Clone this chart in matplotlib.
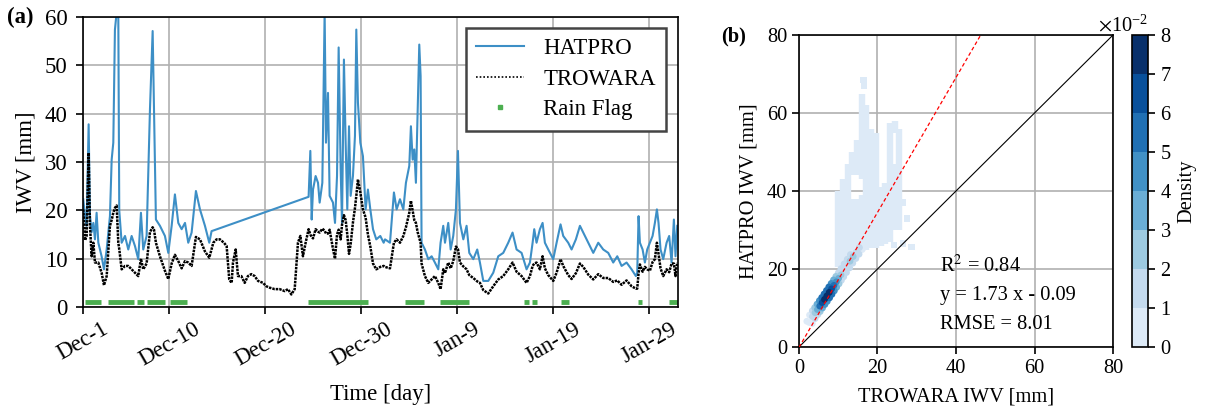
import numpy as np
import matplotlib
matplotlib.use("Agg")
import matplotlib.pyplot as plt
from matplotlib.colors import BoundaryNorm, ListedColormap
from matplotlib.lines import Line2D
from matplotlib.ticker import ScalarFormatter

plt.rcParams['font.family'] = ['Liberation Serif', 'DejaVu Serif']
plt.rcParams['mathtext.fontset'] = 'stix'
plt.rcParams['font.size'] = 14.7
FS_A = 16.4  # panel (a) was drawn with a larger font

nan = np.nan

# ---------------- panel (a) data: days since Dec-1
days = [0.03, 0.21, 0.38, 0.59, 0.73, 0.90, 1.08, 1.25, 1.42, 1.60, 1.94, 2.19, 2.47, 2.81, 2.99, 3.16,
        3.33, 3.51, 3.68, 3.78, 4.03, 4.38, 4.72, 5.07, 5.42, 5.76, 6.04, 6.28, 6.63, 6.98, 7.26, 7.40,
        7.60, 8.02, 8.54, 8.89, 9.24, 9.58, 9.93, 10.28, 10.63, 10.97, 11.32, 11.77, 12.19, 12.71, 13.16, 13.40,
        13.58, 13.92, 14.27, 14.69, 14.97, 15.24, 15.49, 15.63, 15.91, 16.15, 16.50, 16.85, 17.19, 17.54,
        17.89, 18.24, 18.76, 19.10, 19.45, 19.97, 20.49, 21.01, 21.36, 21.71, 22.06, 22.40, 22.65, 22.92, 23.20,
        23.51, 23.69, 23.83, 23.97, 24.24, 24.49, 24.66, 24.94, 25.18, 25.32, 25.53, 25.70, 26.05, 26.26,
        26.47, 26.64, 26.85, 26.99, 27.19, 27.37, 27.54, 27.72, 27.89, 28.13, 28.34, 28.48, 28.65, 28.90,
        29.17, 29.45, 29.69, 29.94, 30.22, 30.56, 30.98, 31.33,
        31.47, 31.99, 32.40, 32.68, 33.03, 33.38, 33.65, 34.00, 34.17, 34.35, 34.52, 34.69, 34.87, 35.04,
        35.18, 35.28, 35.63, 35.98, 36.33, 36.67, 37.02, 37.26, 37.54, 37.72, 38.06, 38.31, 38.58, 38.86,
        39.07, 39.28, 39.63, 39.97, 40.25, 40.67, 41.08, 41.36, 41.71, 42.23, 42.75, 43.27, 43.79, 44.31,
        44.76, 45.18, 45.70, 46.22, 46.57, 46.85, 47.02,
        47.26, 47.61, 47.89, 48.13, 48.48, 49.00, 49.35, 49.76, 50.04, 50.56, 50.91, 51.36, 51.78, 52.13,
        52.65, 53.17, 53.69, 54.21, 54.73, 55.25, 55.67, 56.12, 56.64, 57.16, 57.61, 57.75, 57.89, 58.03,
        58.31, 58.55, 58.79, 59.07, 59.35, 59.59, 59.80, 59.97, 60.18, 60.46, 60.81, 61.08, 61.33, 61.57,
        61.74, 61.92]

# HATPRO IWV [mm] (no data between Dec-14 and Dec-24)
hatpro = [22.3, 18.8, 16.8, 37.8, 18.8, 15.5, 17.4, 14.0, 19.5, 13.3, 10.5, 7.8, 11.9, 18.8, 30.5, 34.0,
          57.4, 61, 61, 20.0, 13.3, 14.7, 11.9, 14.7, 12.6, 9.9, 19.5, 11.9, 14.7, 40.9, 57.1, 40.9,
          18.1, 16.8, 14.7, 11.2, 16.8, 23.3, 17.4, 16.1, 17.4, 13.3, 15.4, 24.0, 20.2, 16.8, 13.3, 15.7,
          nan, nan, nan, nan, nan, nan, nan, nan, nan, nan, nan, nan, nan, nan,
          nan, nan, nan, nan, nan, nan, nan, nan, nan, nan, nan, nan, nan, nan, nan,
          22.8, 32.3, 18.1, 24.3, 27.1, 25.7, 21.6, 25.7, 61, 34.0, 44.3, 23.0, 21.6, 17.4,
          27.1, 53.7, 28.5, 17.4, 51.2, 34.0, 20.2, 37.4, 23.0, 27.1, 35.4, 57.4, 42.3, 34.0,
          31.2, 20.2, 24.3, 20.2, 16.1, 14.0, 14.7, 13.3,
          14.0, 13.3, 23.7, 20.2, 22.3, 20.2, 25.7, 29.2, 37.4, 30.5, 32.6, 25.7, 40.9, 54.3,
          47.8, 13.3, 11.9, 9.9, 10.5, 9.2, 7.8, 13.3, 16.8, 13.3, 17.4, 11.9, 14.7, 20.2,
          32.3, 17.4, 14.0, 16.8, 11.2, 9.9, 11.9, 9.2, 5.4, 5.4, 7.1, 10.5, 11.2, 13.3,
          15.4, 11.9, 11.2, 7.8, 9.2, 13.3, 16.1,
          13.3, 16.1, 17.4, 13.3, 11.9, 9.9, 13.3, 17.1, 14.7, 13.3, 11.9, 14.0, 16.8, 15.4,
          13.3, 11.2, 13.3, 11.9, 11.2, 9.2, 10.5, 8.5, 9.2, 7.8, 6.4, 7.1, 18.8, 13.3,
          11.9, 9.2, 11.9, 13.3, 14.7, 17.4, 20.2, 17.4, 11.9, 9.9, 13.3, 14.7, 9.2, 18.1,
          10.5, 16.8]

# TROWARA IWV [mm]
trowara = [20.2, 13.8, 14.7, 31.9, 16.8, 10.5, 13.3, 9.2, 9.2, 9.2, 7.1, 4.5, 6.4, 16.8, 18.0, 19.5,
           20.5, 21.0, 13.3, 12.0, 7.8, 8.5, 8.5, 7.8, 7.1, 6.4, 10.0, 7.8, 9.0, 15.5, 16.5, 16.0,
           13.3, 10.5, 7.5, 5.8, 9.0, 10.8, 9.5, 8.0, 9.5, 9.2, 8.5, 14.5, 14.0, 11.5, 10.2, 12.0,
           13.3, 14.0, 14.0, 13.3, 12.6, 5.7, 5.0, 9.2, 11.9, 6.4, 6.4, 5.0, 6.4, 6.8,
           6.4, 5.4, 5.0, 4.3, 4.0, 3.7, 3.7, 3.3, 3.7, 2.6, 3.7, 13.3, 14.7, 10.5, 13.3,
           16.1, 15.0, 14.5, 14.2, 16.1, 15.6, 15.4, 16.2, 15.8, 15.2, 15.2, 16.0, 12.0, 10.0,
           15.0, 16.0, 14.0, 17.0, 19.0, 18.0, 15.0, 11.0, 13.0, 17.5, 20.5, 23.0, 26.4, 23.7,
           20.2, 18.5, 15.0, 12.5, 9.0, 7.8, 8.3, 8.5,
           8.3, 8.0, 13.3, 14.0, 13.3, 14.7, 16.5, 19.5, 22.0, 20.0, 18.0, 17.4, 15.5, 14.3,
           13.3, 9.0, 6.4, 5.0, 5.7, 6.4, 5.0, 3.7, 7.8, 7.0, 9.2, 8.0, 9.5, 12.5,
           12.0, 9.2, 8.4, 7.8, 6.6, 6.0, 5.3, 5.0, 3.5, 2.8, 4.3, 5.7, 6.4, 7.8,
           9.2, 7.3, 6.4, 5.0, 6.4, 8.5, 9.0,
           9.2, 7.8, 10.5, 8.0, 6.6, 5.4, 7.1, 9.9, 8.5, 6.6, 5.8, 7.0, 9.0, 8.3,
           6.7, 5.7, 6.8, 6.0, 6.0, 5.2, 5.5, 4.6, 5.5, 4.3, 3.8, 3.8, 7.0, 8.8,
           7.3, 8.3, 7.8, 7.5, 9.3, 9.9, 13.3, 11.0, 8.0, 6.4, 7.8, 7.2, 9.0, 9.0,
           6.4, 9.2]

# rain flag periods (days since Dec-1)
rain_start = [0.18, 2.64, 5.67, 6.72, 9.05, 23.42, 33.56, 37.25, 46.0, 46.8, 49.8, 57.8, 61.1]
rain_end = [1.93, 5.36, 6.41, 8.57, 10.85, 29.65, 35.54, 40.2, 46.5, 47.3, 50.65, 58.2, 62.0]

date_ticks = [0, 9, 19, 29, 39, 49, 59]
date_labels = ['Dec-1', 'Dec-10', 'Dec-20', 'Dec-30', 'Jan-9', 'Jan-19', 'Jan-29']

# ---------------- panel (b) data
# dense core (TROWARA, HATPRO, density)
core_x = [2.6, 3.4, 4.1, 4.7, 5.3, 5.9, 6.5, 7.1, 7.7, 8.3, 8.9, 9.5, 10.1, 10.7, 11.4, 12.2, 13.0, 13.8, 14.6, 15.4,
          2.0, 2.7, 3.4, 4.0, 4.6, 5.2, 5.8, 6.4, 7.0, 7.6, 8.2, 8.8, 9.4, 10.0, 10.7, 11.5, 12.3, 13.1,
          3.4, 4.1, 4.8, 5.4, 6.0, 6.6, 7.2, 7.8, 8.4, 9.0, 9.6, 10.2, 10.8, 11.4, 12.1, 12.9, 13.7, 14.5, 15.3, 16.1]
core_y = [6.3, 7.8, 8.8, 9.6, 10.5, 11.4, 12.2, 13.1, 14.0, 14.9, 15.8, 16.7, 17.6, 18.5, 19.6, 20.8, 22.0, 23.2, 24.3, 25.5,
          6.6, 8.2, 9.3, 10.1, 11.0, 11.9, 12.7, 13.6, 14.5, 15.4, 16.3, 17.2, 18.1, 19.0, 20.1, 21.3, 22.5, 23.7,
          6.0, 7.3, 8.3, 9.1, 10.0, 10.9, 11.7, 12.6, 13.5, 14.4, 15.3, 16.2, 17.1, 18.0, 19.1, 20.3, 21.5, 22.7, 23.8, 25.0]
core_dens = [0.005, 0.015, 0.025, 0.035, 0.05, 0.062, 0.072, 0.078, 0.075, 0.068, 0.055, 0.04, 0.03, 0.022,
             0.018, 0.016, 0.02, 0.022, 0.018, 0.012,
             0.004, 0.008, 0.014, 0.02, 0.03, 0.04, 0.05, 0.055, 0.055, 0.05, 0.04, 0.03, 0.02, 0.015,
             0.012, 0.01, 0.012, 0.012,
             0.005, 0.01, 0.015, 0.022, 0.03, 0.04, 0.048, 0.052, 0.05, 0.045, 0.035, 0.025, 0.018,
             0.013, 0.012, 0.015, 0.018, 0.015, 0.01, 0.006]

# sparse low-density cloud as vertical streaks (TROWARA, HATPRO from, HATPRO to)
cloud_x = [10.0, 11.2, 12.4, 13.6, 13.6, 14.8, 14.8, 16.0, 16.0, 17.2, 18.4, 19.6, 20.8, 22.0,
           23.2, 24.4, 24.4, 25.6]
cloud_lo = [20.5, 21, 22, 23, 44, 24, 44, 24.5, 43, 25, 25.5, 25.5, 26, 26.5, 27, 30, 55, 30]
cloud_hi = [40, 43, 47, 38, 50, 38, 53, 39, 65, 62, 56, 55, 41, 42, 57.5, 47, 58, 56]
# isolated low-density points
dots_x = [16.4, 16.6, 28.7, 26.5, 24.2, 21.5, 27.5, 26.5]
dots_y = [68.5, 67.0, 25.7, 26.5, 26.2, 27.5, 33.0, 37.0]

fit_slope = 1.73
fit_icept = -0.09
stats = ['R$^2$ = 0.84', 'y = 1.73 x - 0.09', 'RMSE = 8.01']

blue = '#3d8fc6'
green = '#4caf50'

days = np.array(days)
hatpro = np.array(hatpro)
trowara = np.array(trowara)
ok = ~np.isnan(hatpro)

fig = plt.figure(figsize=(12.06, 4.11), dpi=100)
ax1 = fig.add_axes([0.0688, 0.2530, 0.4934, 0.7056])
ax2 = fig.add_axes([0.6625, 0.1557, 0.2604, 0.7591])
cax = fig.add_axes([0.9386, 0.1557, 0.0133, 0.7591])

# ---- panel (a): time series
ax1.plot(days[ok], hatpro[ok], color=blue, lw=1.5)
ax1.plot(days, trowara, color='k', ls=(0, (1, 0.4)), lw=1.8)
ax1.hlines([1] * len(rain_start), rain_start, rain_end, color=green, lw=3.5, capstyle='butt')
ax1.set_xlim(0, 62)
ax1.set_ylim(0, 60)
ax1.set_xticks(date_ticks)
ax1.set_xticklabels(date_labels, rotation=30)
ax1.set_yticks(np.arange(0, 61, 10))
ax1.tick_params(labelsize=FS_A, length=5, width=1.2)
ax1.tick_params(axis='y', pad=6)
ax1.set_xlabel('Time [day]', fontsize=FS_A, labelpad=10)
ax1.set_ylabel('IWV [mm]', fontsize=FS_A, labelpad=6)
ax1.grid(True, color='#b0b0b0', lw=1.2)
ax1.set_axisbelow(True)

handles = [Line2D([], [], color=blue, lw=1.5),
           Line2D([], [], color='k', ls=(0, (1, 1.2)), lw=1.2),
           Line2D([], [], ls='none', marker='s', ms=3.5, color=green)]
leg = ax1.legend(handles, ['HATPRO', 'TROWARA', 'Rain Flag'], loc='upper right',
                 bbox_to_anchor=(0.980, 0.962), borderaxespad=0, fancybox=False,
                 framealpha=1, edgecolor='#444444', fontsize=FS_A, handlelength=2.1,
                 handletextpad=0.85, borderpad=0.45, labelspacing=0.42)
leg.get_frame().set_linewidth(1.8)

# ---- panel (b): density scatter
levels = np.arange(0, 0.081, 0.01)
cmap = ListedColormap(plt.cm.Blues(np.linspace(0.13, 1.0, 8)))
norm = BoundaryNorm(levels, cmap.N, clip=True)
light = cmap(0)

ax2.vlines(cloud_x, cloud_lo, cloud_hi, color=light, lw=4.6, zorder=2.5)
ax2.scatter(dots_x, dots_y, color=light, s=22, marker='s', edgecolors='none', zorder=2.5)
order = np.argsort(core_dens)
sc = ax2.scatter(np.array(core_x)[order], np.array(core_y)[order], c=np.array(core_dens)[order],
                 cmap=cmap, norm=norm, s=24, marker='o', edgecolors='none', zorder=3)

line = np.array([0, 80])
ax2.plot(line, line, color='k', lw=0.8, zorder=4)
ax2.plot(line, fit_slope * line + fit_icept, color='red', ls=(0, (3, 2)), lw=0.9, zorder=4)
ax2.set_xlim(0, 80)
ax2.set_ylim(0, 80)
ax2.set_xticks(np.arange(0, 81, 20))
ax2.set_yticks(np.arange(0, 81, 20))
ax2.tick_params(length=5, width=1.2)
ax2.set_xlabel('TROWARA IWV [mm]', labelpad=7)
ax2.set_ylabel('HATPRO IWV [mm]', labelpad=6)
ax2.grid(True, color='#b0b0b0', lw=1.2)
ax2.set_axisbelow(True)
for i, s in enumerate(stats):
    ax2.text(36, 19.3 - i * 7.3, s, ha='left', va='baseline', zorder=5)

cb = fig.colorbar(sc, cax=cax, ticks=levels)
fmt = ScalarFormatter(useMathText=True)
fmt.set_powerlimits((0, 0))
cb.formatter = fmt
cb.update_ticks()
cb.set_label('Density', labelpad=4)
cb.outline.set_linewidth(1.2)
cax.tick_params(length=5, width=1.2)

for ax in (ax1, ax2):
    for sp in ax.spines.values():
        sp.set_linewidth(1.2)

fig.text(0.006, 0.957, '(a)', fontweight='bold', fontsize=FS_A, va='center')
fig.text(0.598, 0.912, '(b)', fontweight='bold', va='center')

fig.savefig('out.png', dpi=100)
